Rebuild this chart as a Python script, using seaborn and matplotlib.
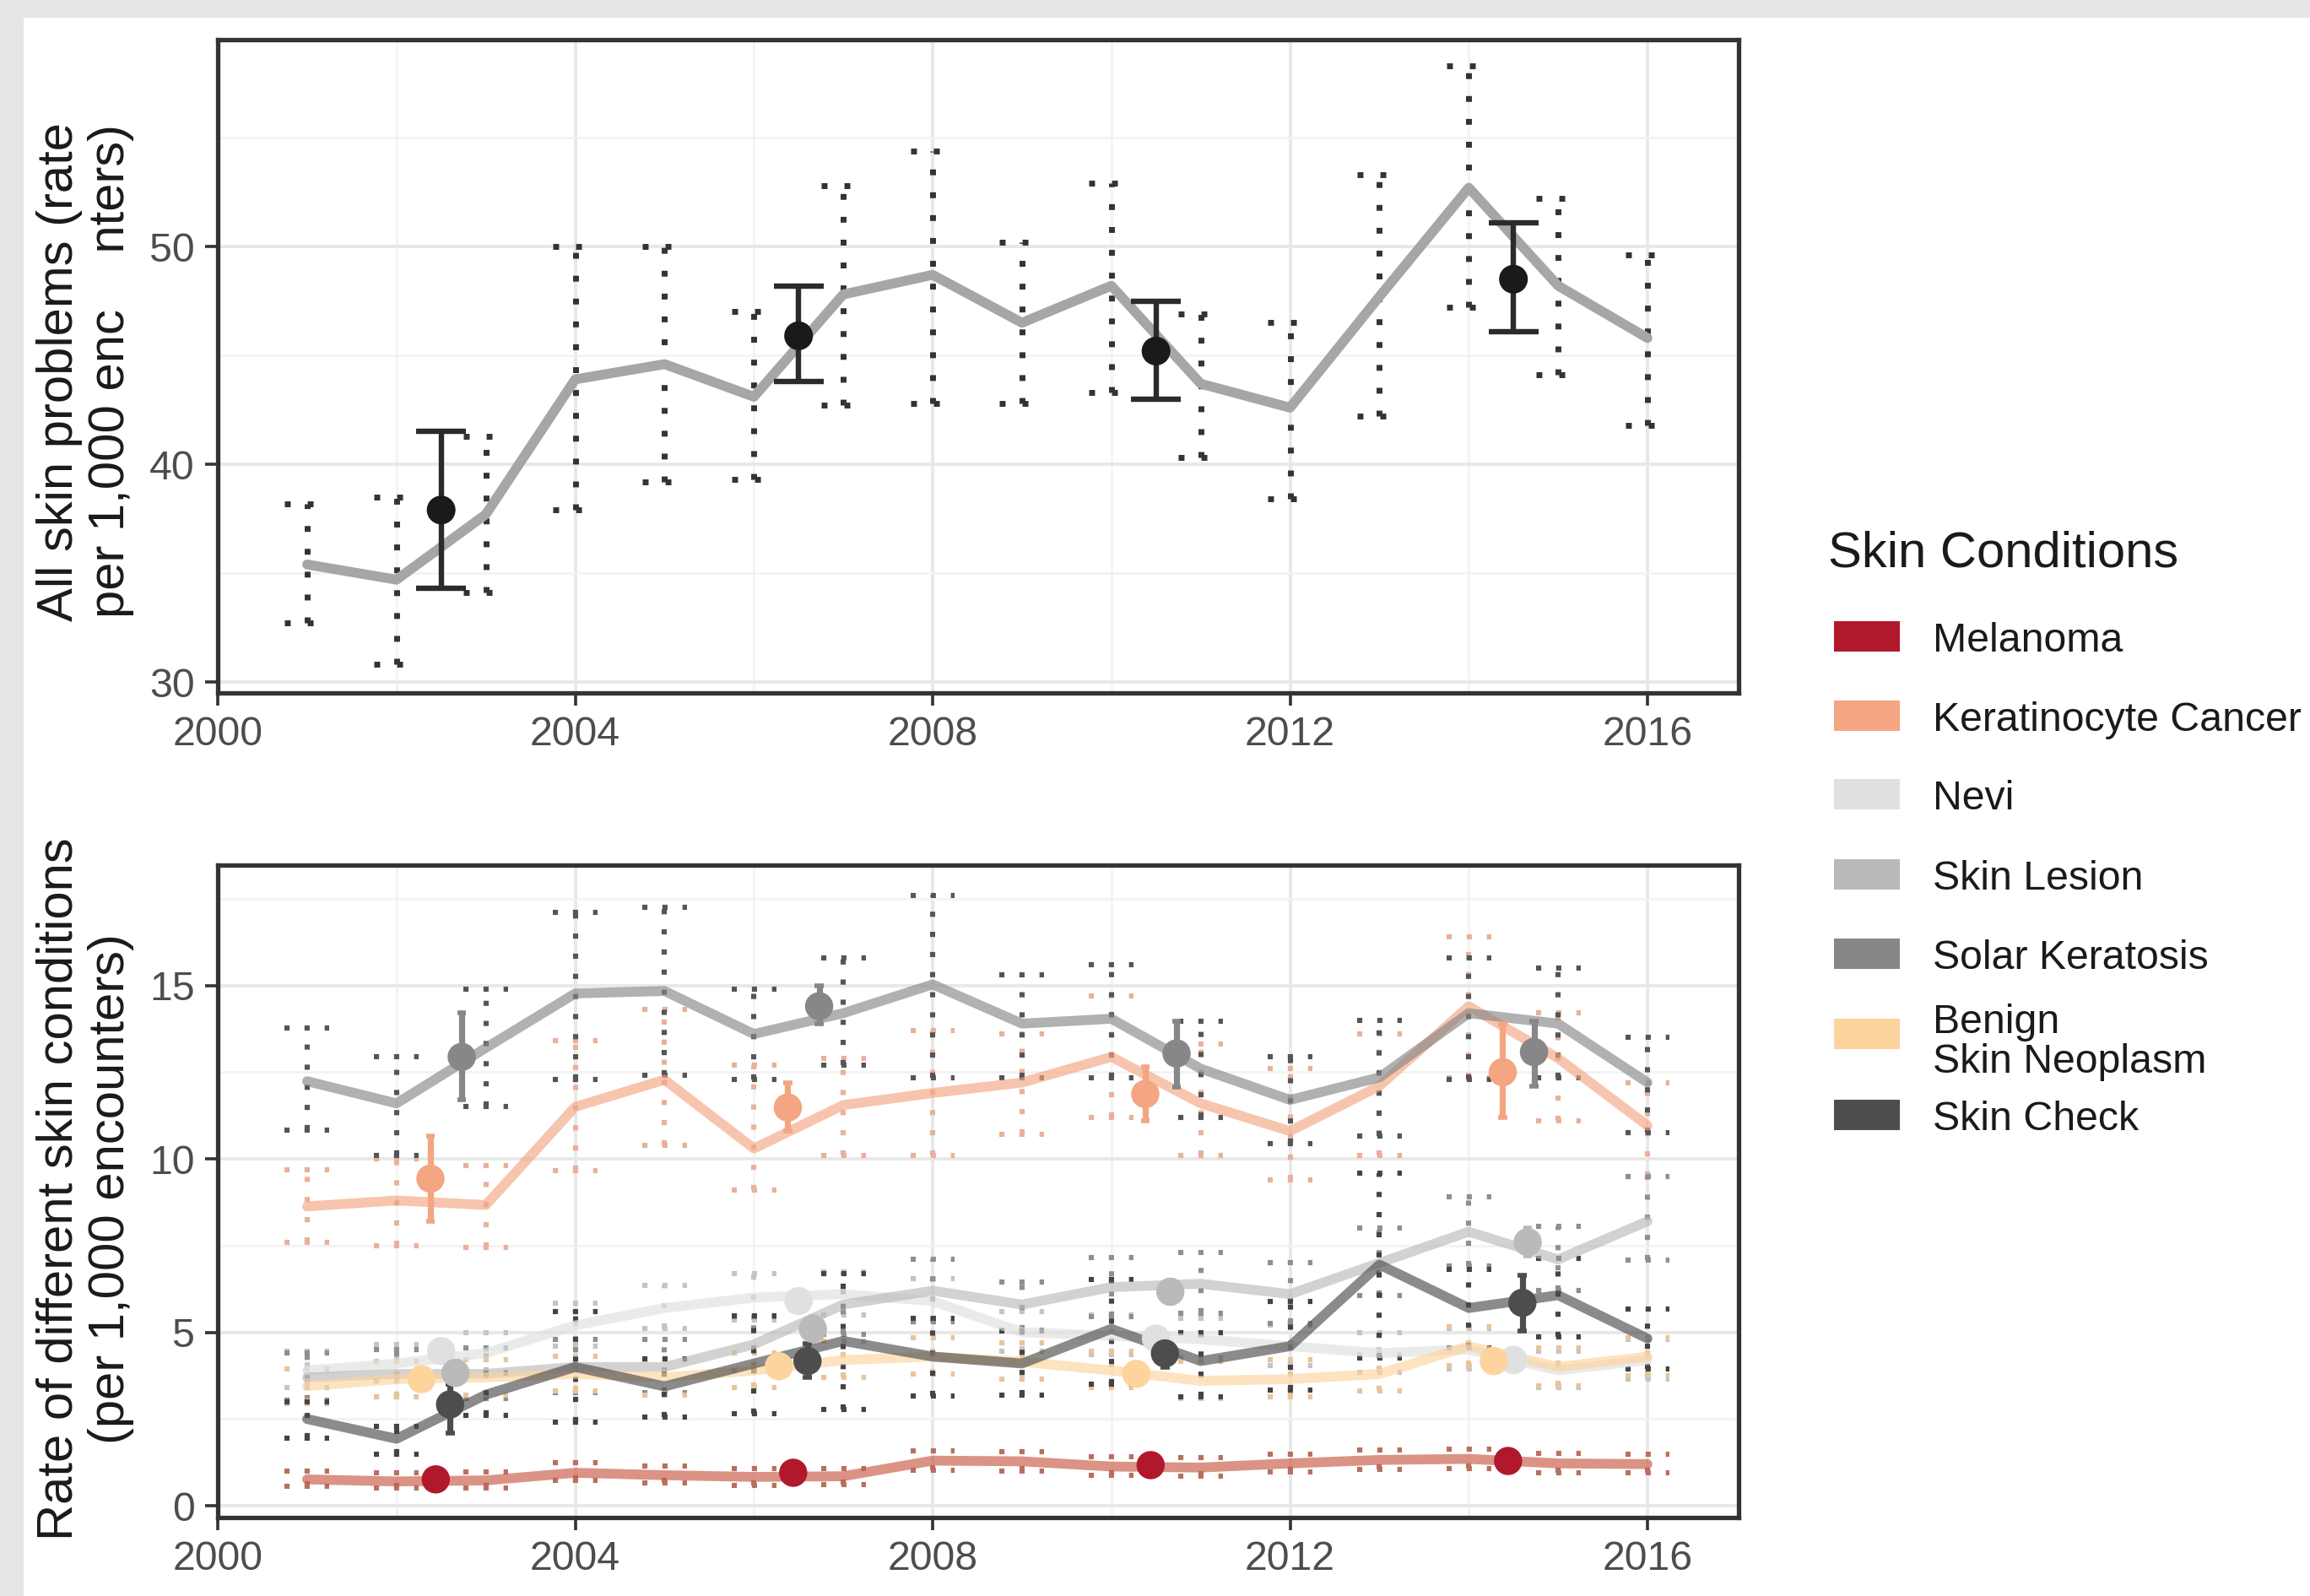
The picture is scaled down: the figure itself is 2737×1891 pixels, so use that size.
import numpy as np
import pandas as pd
import matplotlib
matplotlib.use('Agg')
import matplotlib.pyplot as plt
from matplotlib.patches import Rectangle
import seaborn as sns

sns.set_theme(style='white')
plt.rcParams['font.family'] = ['Liberation Sans', 'DejaVu Sans']

# ── Data ─────────────────────────────────────────────────────
years = list(range(2001, 2017))
periods = [2002.5, 2006.5, 2010.5, 2014.5]

# top panel: all skin problems
all_rate = [35.4, 34.7, 37.7, 43.9, 44.6, 43.1, 47.8, 48.7, 46.5, 48.2, 43.7, 42.6, 47.7, 52.7, 48.2, 45.8]
all_lo = [32.7, 30.8, 34.1, 37.9, 39.2, 39.3, 42.7, 42.8, 42.8, 43.3, 40.3, 38.4, 42.2, 47.2, 44.1, 41.8]
all_hi = [38.2, 38.5, 41.3, 50.0, 50.0, 47.0, 52.8, 54.4, 50.2, 52.9, 46.9, 46.5, 53.3, 58.3, 52.2, 49.6]
all_pt = [37.9, 45.9, 45.2, 48.5]
all_pt_lo = [34.3, 43.8, 43.0, 46.1]
all_pt_hi = [41.5, 48.2, 47.5, 51.1]

# bottom panel: individual conditions
conditions = ['Melanoma', 'Keratinocyte Cancer', 'Nevi', 'Skin Lesion',
              'Solar Keratosis', 'Benign\nSkin Neoplasm', 'Skin Check']
palette = ['#b2182b', '#f4a582', '#e0e0e0', '#bababa', '#878787', '#fdd49e', '#4d4d4d']
line_palette = ['#c85a45', '#f4a582', '#e0e0e0', '#bababa', '#878787', '#fdd49e', '#4d4d4d']
ci_palette = ['#b8705e', '#eab09a', '#c4c4c4', '#8f8f8f', '#555555', '#e8c49a', '#444444']
dodge = [-0.06, -0.12, 0.0, 0.16, 0.23, -0.22, 0.10]

mel_rate = [0.76, 0.70, 0.73, 0.95, 0.88, 0.83, 0.85, 1.30, 1.28, 1.13, 1.10, 1.22, 1.32, 1.35, 1.22, 1.20]
mel_lo = [0.55, 0.50, 0.52, 0.72, 0.65, 0.58, 0.60, 1.02, 1.00, 0.88, 0.85, 0.98, 1.05, 1.08, 0.95, 0.95]
mel_hi = [1.00, 0.95, 0.98, 1.25, 1.15, 1.07, 1.08, 1.58, 1.55, 1.40, 1.38, 1.48, 1.60, 1.62, 1.50, 1.48]
mel_pt = [0.76, 0.95, 1.17, 1.29]
mel_pt_lo = [0.68, 0.87, 1.09, 1.21]
mel_pt_hi = [0.84, 1.03, 1.25, 1.37]

kc_rate = [8.63, 8.80, 8.67, 11.50, 12.28, 10.30, 11.55, 11.90, 12.20, 12.94, 11.60, 10.80, 12.10, 14.40, 12.90, 10.96]
kc_lo = [7.60, 7.50, 7.45, 9.65, 10.40, 9.10, 10.10, 10.10, 10.70, 11.20, 10.10, 9.40, 10.10, 12.35, 11.10, 9.50]
kc_hi = [9.68, 10.00, 9.80, 13.40, 14.30, 12.70, 12.90, 13.70, 13.60, 14.70, 13.30, 12.60, 13.60, 16.40, 14.20, 12.20]
kc_pt = [9.43, 11.48, 11.87, 12.50]
kc_pt_lo = [8.19, 10.80, 11.10, 11.20]
kc_pt_hi = [10.67, 12.20, 12.65, 13.90]

nevi_rate = [3.90, 4.10, 4.40, 5.20, 5.70, 6.00, 6.10, 5.90, 5.00, 4.90, 4.80, 4.60, 4.40, 4.50, 3.90, 4.20]
nevi_lo = [3.40, 3.60, 3.85, 4.60, 5.10, 5.35, 5.50, 5.30, 4.45, 4.35, 4.25, 4.05, 3.85, 3.95, 3.40, 3.65]
nevi_hi = [4.45, 4.65, 5.00, 5.85, 6.35, 6.70, 6.75, 6.55, 5.60, 5.50, 5.40, 5.20, 5.00, 5.10, 4.45, 4.80]
nevi_pt = [4.46, 5.90, 4.82, 4.20]
nevi_pt_lo = [4.20, 5.62, 4.56, 3.95]
nevi_pt_hi = [4.72, 6.18, 5.08, 4.45]

les_rate = [3.70, 3.80, 3.80, 4.00, 4.00, 4.65, 5.80, 6.20, 5.80, 6.30, 6.40, 6.10, 7.00, 7.90, 7.10, 8.20]
les_lo = [3.05, 3.15, 3.10, 3.25, 3.25, 3.90, 4.95, 5.30, 5.05, 5.45, 5.55, 5.25, 6.05, 6.90, 6.20, 7.07]
les_hi = [4.40, 4.50, 4.55, 4.80, 4.80, 5.45, 6.70, 7.10, 6.45, 7.15, 7.30, 7.00, 8.00, 8.90, 8.05, 9.50]
les_pt = [3.83, 5.10, 6.17, 7.60]
les_pt_lo = [3.50, 4.75, 5.85, 7.20]
les_pt_hi = [4.16, 5.45, 6.50, 8.00]

ak_rate = [12.24, 11.60, 13.20, 14.77, 14.84, 13.60, 14.20, 15.03, 13.90, 14.04, 12.60, 11.70, 12.35, 14.20, 13.90, 12.20]
ak_lo = [10.82, 10.10, 11.50, 12.30, 12.40, 12.30, 12.70, 12.35, 12.35, 12.35, 11.20, 10.45, 10.67, 12.30, 12.35, 10.75]
ak_hi = [13.77, 12.94, 14.90, 17.10, 17.25, 14.90, 15.80, 17.60, 15.30, 15.60, 13.96, 12.94, 14.00, 15.80, 15.50, 13.50]
ak_pt = [12.94, 14.40, 13.04, 13.08]
ak_pt_lo = [11.70, 13.90, 12.06, 12.10]
ak_pt_hi = [14.20, 15.00, 13.96, 13.96]

bsn_rate = [3.45, 3.65, 3.70, 3.80, 3.70, 3.90, 4.20, 4.30, 4.15, 3.90, 3.60, 3.65, 3.80, 4.60, 4.00, 4.30]
bsn_lo = [2.95, 3.15, 3.20, 3.30, 3.20, 3.40, 3.70, 3.80, 3.65, 3.40, 3.10, 3.15, 3.30, 4.05, 3.45, 3.75]
bsn_hi = [3.95, 4.15, 4.20, 4.30, 4.20, 4.40, 4.75, 4.85, 4.70, 4.45, 4.15, 4.20, 4.35, 5.15, 4.55, 4.85]
bsn_pt = [3.65, 4.02, 3.80, 4.17]
bsn_pt_lo = [3.40, 3.78, 3.56, 3.92]
bsn_pt_hi = [3.90, 4.26, 4.04, 4.42]

chk_rate = [2.50, 1.93, 3.20, 4.00, 3.44, 4.10, 4.75, 4.30, 4.10, 5.10, 4.17, 4.60, 6.95, 5.70, 6.07, 4.82]
chk_lo = [1.95, 1.49, 2.60, 2.40, 2.56, 2.65, 2.78, 3.17, 3.20, 3.51, 3.14, 3.33, 4.26, 4.55, 4.86, 3.94]
chk_hi = [3.00, 2.28, 3.82, 5.60, 4.24, 5.47, 6.70, 5.41, 5.04, 6.52, 4.98, 5.90, 9.60, 6.82, 7.12, 5.66]
chk_pt = [2.92, 4.17, 4.39, 5.85]
chk_pt_lo = [2.10, 3.70, 4.00, 5.04]
chk_pt_hi = [3.50, 4.68, 4.80, 6.65]

yearly = [(mel_rate, mel_lo, mel_hi), (kc_rate, kc_lo, kc_hi), (nevi_rate, nevi_lo, nevi_hi),
          (les_rate, les_lo, les_hi), (ak_rate, ak_lo, ak_hi), (bsn_rate, bsn_lo, bsn_hi),
          (chk_rate, chk_lo, chk_hi)]
period_pts = [(mel_pt, mel_pt_lo, mel_pt_hi), (kc_pt, kc_pt_lo, kc_pt_hi), (nevi_pt, nevi_pt_lo, nevi_pt_hi),
              (les_pt, les_pt_lo, les_pt_hi), (ak_pt, ak_pt_lo, ak_pt_hi), (bsn_pt, bsn_pt_lo, bsn_pt_hi),
              (chk_pt, chk_pt_lo, chk_pt_hi)]

# long tables for seaborn
rows, prow = [], []
for cond, (r, lo, hi), (p, plo, phi), dx in zip(conditions, yearly, period_pts, dodge):
    for y, v, l, h in zip(years, r, lo, hi):
        rows.append(dict(condition=cond, year=y, rate=v, lo=l, hi=h))
    for x, v, l, h in zip(periods, p, plo, phi):
        prow.append(dict(condition=cond, x=x + dx, rate=v, lo=l, hi=h))
df = pd.DataFrame(rows)
pts = pd.DataFrame(prow)
cmap = dict(zip(conditions, palette))
line_map = dict(zip(conditions, line_palette))
ci_map = dict(zip(conditions, ci_palette))

# ── Figure ───────────────────────────────────────────────────
W, H = 2737, 1891
fig = plt.figure(figsize=(W / 200, H / 200), dpi=200)
fig.patch.set_facecolor('#e6e6e6')
fig.add_artist(Rectangle((28 / W, 0), 1, 1 - 21 / H, transform=fig.transFigure,
                         facecolor='white', edgecolor='none', zorder=-5))

ax1 = fig.add_axes([258 / W, 1 - 821 / H, 1802 / W, 774 / H])
ax2 = fig.add_axes([258 / W, 1 - 1798 / H, 1802 / W, 773 / H])

DOT = (0, (1, 2.9))
TICK = 17.4
TITLE = 21.5
LINE_W = 4.2


def style_axis(ax, yticks, yminor, ylim):
    ax.set_xlim(2000, 2017.02)
    ax.set_ylim(*ylim)
    ax.set_xticks([2000, 2004, 2008, 2012, 2016])
    ax.set_xticks([2002, 2006, 2010, 2014], minor=True)
    ax.set_yticks(yticks)
    ax.set_yticks(yminor, minor=True)
    ax.grid(which='major', color='#e8e8e8', lw=1.4, zorder=0)
    ax.grid(which='minor', color='#f2f2f2', lw=0.9, zorder=0)
    ax.set_axisbelow(True)
    for sp in ax.spines.values():
        sp.set_color('#333333')
        sp.set_linewidth(1.9)
    ax.tick_params(which='major', direction='out', length=5.4, width=1.3, color='#333333',
                   labelcolor='#4d4d4d', labelsize=TICK, pad=4.4, left=True, bottom=True)
    ax.tick_params(which='minor', length=0)
    ax.set_xlabel('')
    ax.set_ylabel('')


# ── Top panel ────────────────────────────────────────────────
yrs = np.array(years)
ax1.vlines(yrs, all_lo, all_hi, colors='#333333', linestyles=[DOT], lw=2.5, zorder=2)
ax1.hlines(all_lo, yrs - 0.25, yrs + 0.25, colors='#333333', linestyles=[DOT], lw=2.5, zorder=2)
ax1.hlines(all_hi, yrs - 0.25, yrs + 0.25, colors='#333333', linestyles=[DOT], lw=2.5, zorder=2)
sns.lineplot(x=years, y=all_rate, color='#a6a6a6', ax=ax1, zorder=3)
for ln in ax1.get_lines():
    ln.set_linewidth(LINE_W)
    ln.set_solid_joinstyle('round')
per = np.array(periods)
ax1.vlines(per, all_pt_lo, all_pt_hi, colors='#2b2b2b', lw=2.3, zorder=4)
ax1.hlines(all_pt_lo, per - 0.28, per + 0.28, colors='#2b2b2b', lw=2.3, zorder=4)
ax1.hlines(all_pt_hi, per - 0.28, per + 0.28, colors='#2b2b2b', lw=2.3, zorder=4)
sns.scatterplot(x=periods, y=all_pt, color='#1a1a1a', s=150, edgecolor='none', ax=ax1, zorder=5)
style_axis(ax1, [30, 40, 50], [35, 45, 55], (29.5, 59.5))

# ── Bottom panel ─────────────────────────────────────────────
for cond in conditions:
    d = df[df.condition == cond]
    c = ci_map[cond]
    ax2.vlines(d.year, d.lo, d.hi, colors=c, linestyles=[DOT], lw=2.2, zorder=2)
    ax2.hlines(d.lo, d.year - 0.25, d.year + 0.25, colors=c, linestyles=[DOT], lw=2.2, zorder=2)
    ax2.hlines(d.hi, d.year - 0.25, d.year + 0.25, colors=c, linestyles=[DOT], lw=2.2, zorder=2)

sns.lineplot(data=df, x='year', y='rate', hue='condition', hue_order=conditions,
             palette=line_map, alpha=0.65, legend=False, ax=ax2, zorder=3)
for ln in ax2.get_lines():
    ln.set_linewidth(LINE_W)
    ln.set_solid_joinstyle('round')

for cond in conditions:
    d = pts[pts.condition == cond]
    ax2.vlines(d.x, d.lo, d.hi, colors=cmap[cond], lw=2.6, zorder=4)
    ax2.hlines(d.lo, d.x - 0.05, d.x + 0.05, colors=cmap[cond], lw=2.0, zorder=4)
    ax2.hlines(d.hi, d.x - 0.05, d.x + 0.05, colors=cmap[cond], lw=2.0, zorder=4)
sns.scatterplot(data=pts, x='x', y='rate', hue='condition', hue_order=conditions,
                palette=cmap, s=145, edgecolor='none', legend=False, ax=ax2, zorder=5)
style_axis(ax2, [0, 5, 10, 15], [2.5, 7.5, 12.5, 17.5], (-0.34, 18.47))

# ── Axis titles ──────────────────────────────────────────────
fig.text(101 / W, 1 - 440 / H, 'All skin problems (rate\nper 1,000 enc    nters)',
         rotation=90, ha='center', va='center', fontsize=TITLE, color='#1a1a1a',
         multialignment='center', linespacing=1.15)
fig.text(101 / W, 1 - 1409 / H, 'Rate of different skin conditions\n(per 1,000 encounters)',
         rotation=90, ha='center', va='center', fontsize=TITLE, color='#1a1a1a',
         multialignment='center', linespacing=1.15)

# ── Legend (ggplot-style keys; two-line key does not widen the rows) ──
leg_x, key_w, key_h, text_x = 2173, 78, 36, 2290
title_base = 672
key_bottoms = [772, 866, 959, 1054, 1148, 1243, 1339]
# baseline of the last text line of each key label
text_bases = [772, 866, 959, 1054, 1148, 1271, 1339]
fig.text(2166 / W, 1 - title_base / H, 'Skin Conditions', fontsize=TITLE,
         color='#1a1a1a', ha='left', va='baseline')
for cond, c, kb, tb in zip(conditions, palette, key_bottoms, text_bases):
    fig.add_artist(Rectangle((leg_x / W, 1 - kb / H), key_w / W, key_h / H,
                             transform=fig.transFigure, facecolor=c, edgecolor='none'))
    fig.text(text_x / W, 1 - tb / H, cond, fontsize=TICK, color='#1a1a1a',
             ha='left', va='baseline', linespacing=1.05)

fig.savefig('out.png', dpi=200, facecolor=fig.get_facecolor())
